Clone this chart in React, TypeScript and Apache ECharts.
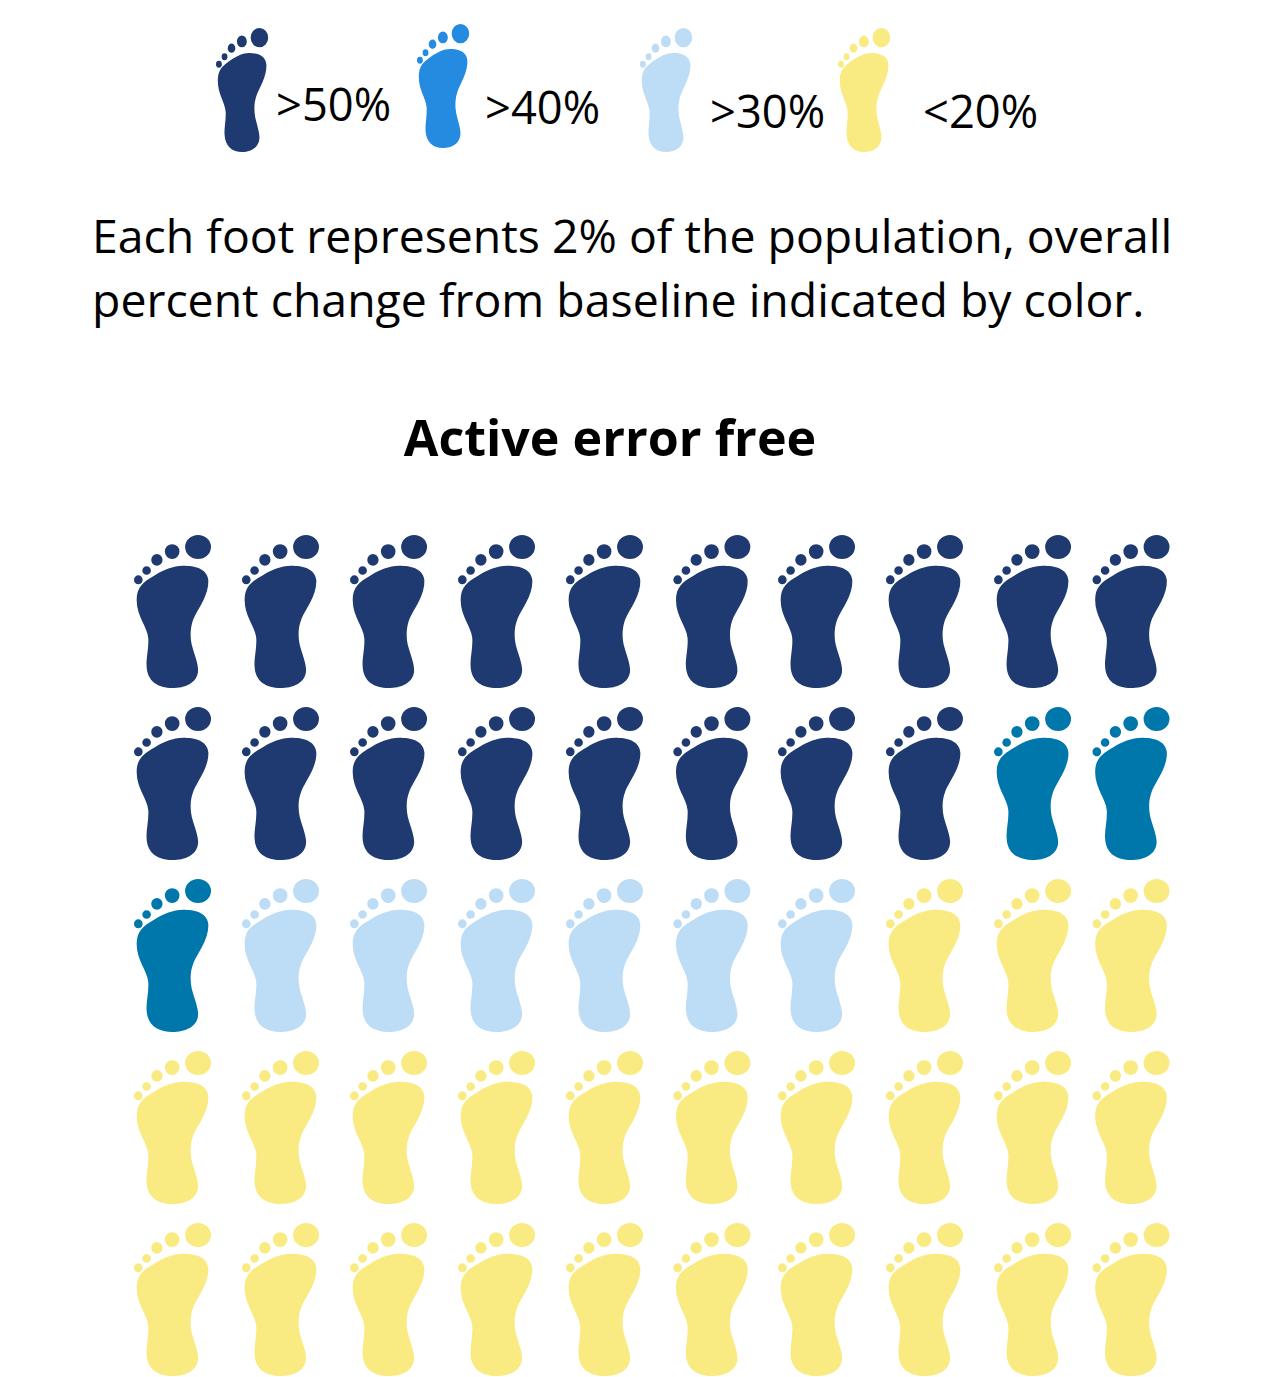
import React, { useEffect, useRef } from "react";
import * as echarts from "echarts";

// Share of the population per change band; each foot stands for 2%.
const tierNames = [">50%", ">40%", ">30%", "<20%"];
const footCounts = [18, 3, 6, 23];
const tierColors = ["#1F3A70", "#0077AB", "#BDDCF5", "#F9EB82"];

const columns = ["1", "2", "3", "4", "5", "6", "7", "8", "9", "10"];
const rows = ["1", "2", "3", "4", "5"];

// Small sideways corrections of each column, in pixels.
const columnNudge = [0, 1.3, 2.7, 4, 5.3, 6, 4, 5.3, 6.7, -1.5];

const legendLabels = [">50%", ">40%", ">30%", "<20%"];
const legendColors = ["#1F3A70", "#248BE0", "#BDDCF5", "#F9EB82"];
const legendFootLeft = [216, 417, 640, 838];
const legendFootTop = [28, 24, 28, 28];
const legendLabelX = [276, 485, 710, 923];
const legendLabelY = [103, 106, 110, 110];

const captionLines = [
  "Each foot represents 2% of the population, overall",
  "percent change from baseline indicated by color.",
];
const titleText = "Active error free";

const TEXT_FONT = '"Open Sans", sans-serif';

// Sole plus five toes.
const FOOT_PATH =
  "M190 137 C225 137 262 145 266 180 C268 225 235 265 222 295 C212 320 210 345 216 375 " +
  "C224 405 237 435 235 455 C232 490 195 505 158 505 C115 505 82 485 80 440 " +
  "C78 415 87 385 85 355 C82 320 50 290 50 240 C50 200 70 185 105 165 C130 150 160 137 190 137 Z " +
  "M196 80 A39 36 0 1 1 274 80 A39 36 0 1 1 196 80 Z " +
  "M135 94 A22 22 0 1 1 179 94 A22 22 0 1 1 135 94 Z " +
  "M94 119 A17 17 0 1 1 128 119 A17 17 0 1 1 94 119 Z " +
  "M67 151 A13 13 0 1 1 93 151 A13 13 0 1 1 67 151 Z " +
  "M42 179 A13 13 0 1 1 68 179 A13 13 0 1 1 42 179 Z";

echarts.graphic.registerShape("foot", echarts.graphic.extendPath(FOOT_PATH, {}));

// Lays the feet out row by row, band after band.
function buildFootSeries() {
  let slot = 0;
  return footCounts.map((count, tier) => {
    const data = [];
    for (let i = 0; i < count; i++, slot++) {
      const col = slot % columns.length;
      const row = Math.floor(slot / columns.length);
      data.push({ value: [col, row], symbolOffset: [columnNudge[col], 0] });
    }
    return {
      name: tierNames[tier],
      type: "scatter",
      symbol: "path://" + FOOT_PATH,
      symbolSize: [77, 153],
      itemStyle: { color: tierColors[tier], opacity: 1 },
      data,
      silent: true,
    };
  });
}

function buildGraphics() {
  const sx = 0.225;
  const sy = 0.269;
  const feet = legendLabels.map((_, i) => ({
    type: "foot",
    x: legendFootLeft[i] - 42 * sx,
    y: legendFootTop[i] - 44 * sy,
    scaleX: sx,
    scaleY: sy,
    style: { fill: legendColors[i] },
  }));
  const labels = legendLabels.map((label, i) => ({
    type: "text",
    x: legendLabelX[i],
    y: legendLabelY[i],
    style: {
      text: label,
      fill: "#000",
      font: `45.3px ${TEXT_FONT}`,
      textAlign: "left",
      textVerticalAlign: "middle",
    },
  }));
  const caption = captionLines.map((line, i) => ({
    type: "text",
    x: 92,
    y: 235 + i * 64,
    style: {
      text: line,
      fill: "#000",
      font: `46.4px ${TEXT_FONT}`,
      textAlign: "left",
      textVerticalAlign: "middle",
    },
  }));
  const title = {
    type: "text",
    x: 610,
    y: 436,
    style: {
      text: titleText,
      fill: "#000",
      font: `bold 50.2px ${TEXT_FONT}`,
      textAlign: "center",
      textVerticalAlign: "middle",
    },
  };
  return [...feet, ...labels, ...caption, title];
}

export default function App() {
  const ref = useRef<HTMLDivElement>(null);

  useEffect(() => {
    const chart = echarts.init(ref.current, undefined, { renderer: "svg" });
    chart.setOption({
      animation: false,
      backgroundColor: "#fff",
      grid: { left: 172.5, top: 611.5, width: 960, height: 688 },
      xAxis: { type: "category", data: columns, show: false, boundaryGap: false },
      yAxis: { type: "category", data: rows, inverse: true, show: false, boundaryGap: false },
      series: buildFootSeries(),
      graphic: buildGraphics(),
    });
    return () => chart.dispose();
  }, []);

  return (
    <div
      ref={ref}
      style={{ position: "absolute", left: 0, top: 0, width: 1264, height: 1377 }}
    />
  );
}
